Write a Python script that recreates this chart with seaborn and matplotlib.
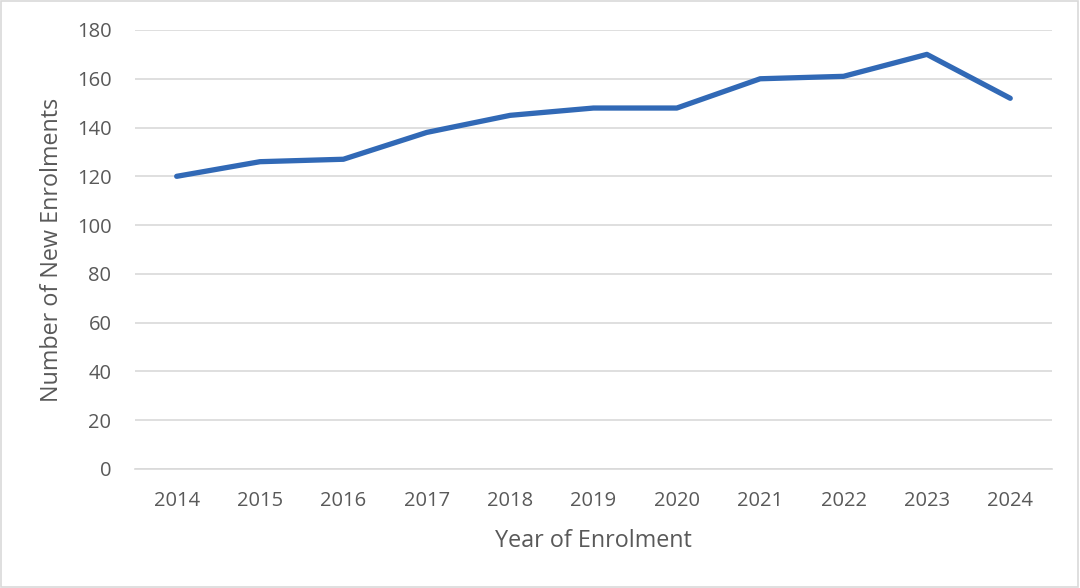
import matplotlib.pyplot as plt
import pandas as pd
import seaborn as sns

# Chart data
years = ['2014', '2015', '2016', '2017', '2018', '2019',
         '2020', '2021', '2022', '2023', '2024']
enrolments = [120, 126, 127, 138, 145, 148, 148, 160, 161, 170, 152]
y_ticks = [0, 20, 40, 60, 80, 100, 120, 140, 160, 180]

df = pd.DataFrame({'Year': years, 'Enrolments': enrolments})

sns.set_style('white')
plt.rcParams['font.family'] = ['Open Sans', 'DejaVu Sans']

text_grey = '#595959'
grid_grey = '#D9D9D9'

fig = plt.figure(figsize=(10.8, 5.88), dpi=100)
ax = fig.add_axes([0.125, 0.2024, 0.849, 0.7466])

sns.lineplot(x='Year', y='Enrolments', data=df, ax=ax,
             color='#3169B6', linewidth=3.8, sort=False,
             solid_capstyle='round', solid_joinstyle='round')

ax.set_xlim(-0.5, len(years) - 0.5)
ax.set_ylim(0, 180)
ax.set_yticks(y_ticks)
ax.yaxis.grid(True, color=grid_grey, linewidth=1.2)
ax.set_axisbelow(True)
for side in ['top', 'right', 'left']:
    ax.spines[side].set_visible(False)
ax.spines['bottom'].set_color(grid_grey)
ax.spines['bottom'].set_linewidth(1.2)
ax.tick_params(axis='both', length=0, labelsize=14.5, colors=text_grey)
ax.tick_params(axis='x', pad=16)
ax.tick_params(axis='y', pad=17)

ax.set_xlabel('Year of Enrolment', fontsize=16.8, color=text_grey, labelpad=13)
ax.set_ylabel('Number of New Enrolments', fontsize=16.8, color=text_grey,
              labelpad=9)

# Light frame around the whole chart
fig.patches.append(plt.Rectangle((0.001, 0.002), 0.997, 0.996,
                                 transform=fig.transFigure, fill=False,
                                 edgecolor=grid_grey, linewidth=1.2))

fig.savefig('out.png', dpi=100)
